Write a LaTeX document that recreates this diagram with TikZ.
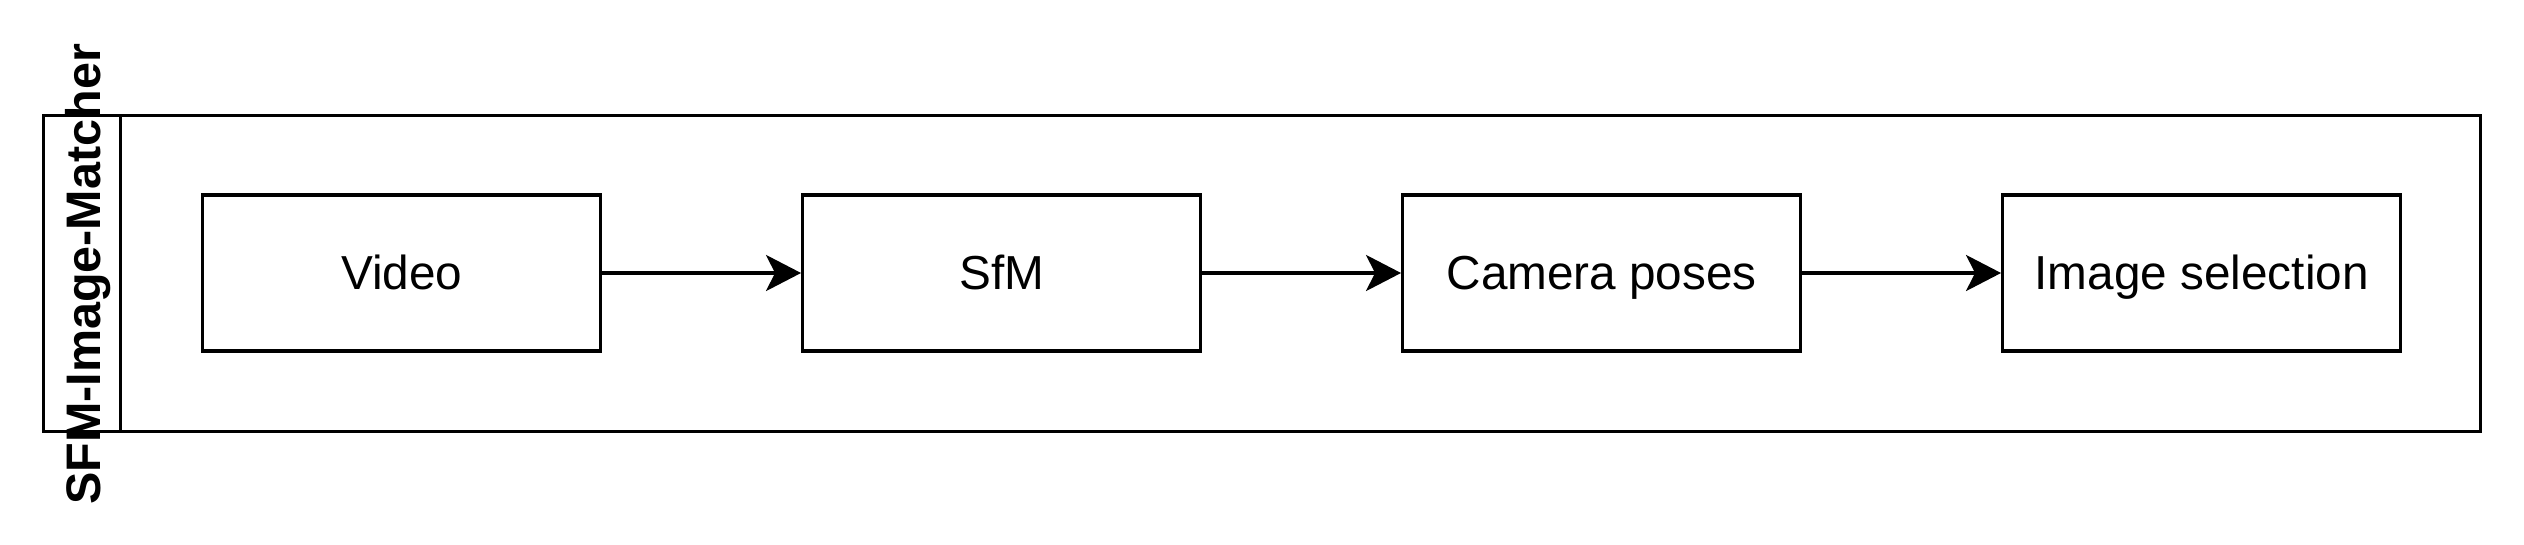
\documentclass[tikz,border=0pt]{standalone}
\usepackage{fontspec}
\setmainfont{Liberation Sans}
\usetikzlibrary{arrows.meta}
\tikzset{
  lw/.style={line width=3.3pt},
  stepbox/.style={draw, lw, minimum width=398pt, minimum height=156pt, inner sep=0pt,
    text height=33pt, text depth=0pt, font=\fontsize{47.7}{57}\selectfont},
  lanebox/.style={draw, lw, inner sep=0pt},
  flow/.style={lw, -{Stealth[length=35pt, width=36pt, inset=9pt]}},
}
\begin{document}
\begin{tikzpicture}[x=1pt,y=1pt]
\useasboundingbox (0,0) rectangle (2524,-544);
\node[lanebox, minimum width=2437pt, minimum height=316pt] (lane) at (1262,-273.5) {};
\node[lanebox, minimum width=77pt, minimum height=316pt] (header) at (82,-273.5) {};
\node[rotate=90, anchor=base, font=\fontsize{48.5}{58}\selectfont\bfseries] (title) at (100,-274.5) {SFM-Image-Matcher};
\node[stepbox] (video) at (401.7,-273) {Video};
\node[stepbox] (sfm) at (1001.7,-273) {SfM};
\node[stepbox] (poses) at (1601.7,-273) {Camera poses};
\node[stepbox] (select) at (2201.7,-273) {Image selection};
\draw[flow] (video) -- (sfm);
\draw[flow] (sfm) -- (poses);
\draw[flow] (poses) -- (select);
\end{tikzpicture}
\end{document}
